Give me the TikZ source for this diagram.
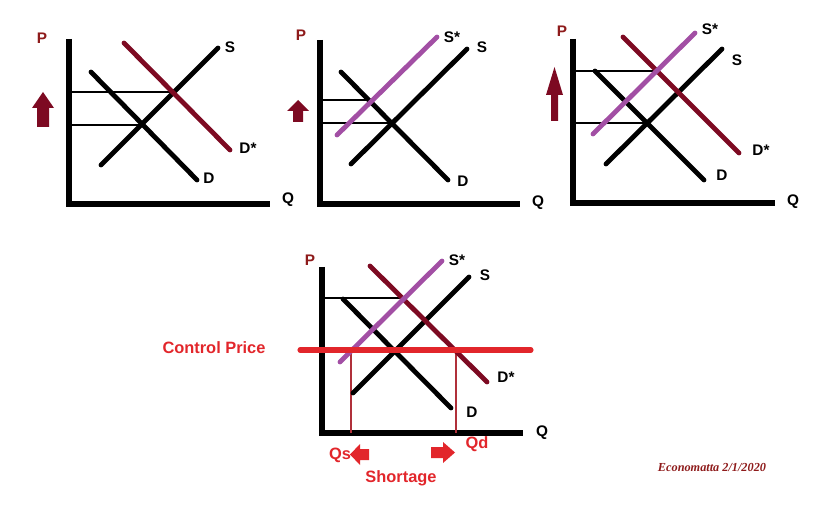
\documentclass[tikz,border=0pt]{standalone}
\usepackage{fontspec}
\setmainfont{Liberation Sans}
\newfontfamily\sigfont{Liberation Serif}
\begin{document}
\begin{tikzpicture}[x=0.75pt,y=-0.75pt,
  curve/.style={line width=3.6pt, line cap=round},
  blk/.style={curve, draw=black},
  dem/.style={curve, draw=maroonc},
  sup/.style={curve, draw=purplec},
  axis/.style={line width=3.8pt, draw=black},
  guide/.style={line width=0.8pt, draw=black},
  lbl/.style={font=\bfseries\fontsize{11.5}{13}\selectfont, inner sep=0pt},
  plbl/.style={lbl, text=plabc},
  redlbl/.style={font=\bfseries\fontsize{12.3}{14}\selectfont, inner sep=0pt, text=redc},
  uparrow/.style={fill=maroonc, draw=none},
  redarrow/.style={fill=redc, draw=none}]
\definecolor{maroonc}{HTML}{7D0A22}
\definecolor{purplec}{HTML}{A24FA4}
\definecolor{plabc}{HTML}{8E1B1B}
\definecolor{redc}{HTML}{E2262B}
\definecolor{thinred}{HTML}{B0303A}
\useasboundingbox (0,0) rectangle (827,505);
% ---------- Panel 1 ----------
\coordinate (a1o) at (69,204);
\coordinate (a1t) at (69,39);
\coordinate (a1r) at (270,204);
\draw[axis] (a1t) -- (a1o) -- (a1r);
\node[plbl] (p1) at (42,38) {P};
\node[lbl] (q1) at (288,200) {Q};
\coordinate (s1a) at (101,165); \coordinate (s1b) at (218,48);
\coordinate (d1a) at (91,72); \coordinate (d1b) at (197,180);
\coordinate (ds1a) at (124,43); \coordinate (ds1b) at (230,150);
\coordinate (h1a) at (69,92); \coordinate (h1b) at (173,92);
\coordinate (h2a) at (69,125); \coordinate (h2b) at (142,125);
\draw[guide] (h1a) -- (h1b);
\draw[guide] (h2a) -- (h2b);
\draw[blk] (s1a) -- (s1b);
\draw[blk] (d1a) -- (d1b);
\draw[dem] (ds1a) -- (ds1b);
\node[lbl] (sl1) at (230,47) {S};
\node[lbl] (dl1) at (209,178) {D};
\node[lbl] (dsl1) at (248,148) {D*};
\fill[uparrow] (32,108) -- (43,92) -- (54,108) -- (49,108) -- (49,127) -- (37,127) -- (37,108) -- cycle;
% ---------- Panel 2 ----------
\coordinate (a2o) at (320,204);
\coordinate (a2t) at (320,40);
\coordinate (a2r) at (520,204);
\draw[axis] (a2t) -- (a2o) -- (a2r);
\node[plbl] (p2) at (301,35) {P};
\node[lbl] (q2) at (538,203) {Q};
\coordinate (s2a) at (351,164); \coordinate (s2b) at (467,49);
\coordinate (ss2a) at (337,135); \coordinate (ss2b) at (437,37);
\coordinate (d2a) at (341,72); \coordinate (d2b) at (448,180);
\coordinate (h3a) at (320,100); \coordinate (h3b) at (369,100);
\coordinate (h4a) at (320,123); \coordinate (h4b) at (391,123);
\draw[guide] (h3a) -- (h3b);
\draw[guide] (h4a) -- (h4b);
\draw[blk] (s2a) -- (s2b);
\draw[blk] (d2a) -- (d2b);
\draw[sup] (ss2a) -- (ss2b);
\node[lbl] (ssl2) at (452,37) {S*};
\node[lbl] (sl2) at (482,47) {S};
\node[lbl] (dl2) at (463,181) {D};
\fill[uparrow] (287,111) -- (298,100) -- (309,111) -- (303,111) -- (303,122) -- (293,122) -- (293,111) -- cycle;
% ---------- Panel 3 ----------
\coordinate (a3o) at (573,203);
\coordinate (a3t) at (573,39);
\coordinate (a3r) at (775,203);
\draw[axis] (a3t) -- (a3o) -- (a3r);
\node[plbl] (p3) at (562,31) {P};
\node[lbl] (q3) at (793,202) {Q};
\coordinate (s3a) at (606,164); \coordinate (s3b) at (722,49);
\coordinate (ss3a) at (593,134); \coordinate (ss3b) at (695,33);
\coordinate (d3a) at (595,71); \coordinate (d3b) at (704,180);
\coordinate (ds3a) at (623,37); \coordinate (ds3b) at (739,153);
\coordinate (h5a) at (573,71); \coordinate (h5b) at (656,71);
\coordinate (h6a) at (573,123); \coordinate (h6b) at (647,123);
\draw[guide] (h5a) -- (h5b);
\draw[guide] (h6a) -- (h6b);
\draw[blk] (s3a) -- (s3b);
\draw[blk] (d3a) -- (d3b);
\draw[dem] (ds3a) -- (ds3b);
\draw[sup] (ss3a) -- (ss3b);
\node[lbl] (ssl3) at (710,29) {S*};
\node[lbl] (sl3) at (737,60) {S};
\node[lbl] (dl3) at (722,175) {D};
\node[lbl] (dsl3) at (761,150) {D*};
\fill[uparrow] (546,95) -- (554.5,67) -- (563,95) -- (558,95) -- (558,121) -- (551,121) -- (551,95) -- cycle;
% ---------- Panel 4 ----------
\coordinate (a4o) at (322,433);
\coordinate (a4t) at (322,267);
\coordinate (a4r) at (523,433);
\draw[axis] (a4t) -- (a4o) -- (a4r);
\node[plbl] (p4) at (310,260) {P};
\node[lbl] (q4) at (542,433) {Q};
\coordinate (s4a) at (353,393); \coordinate (s4b) at (469,277);
\coordinate (ss4a) at (340,362); \coordinate (ss4b) at (442,261);
\coordinate (d4a) at (343,299); \coordinate (d4b) at (451,408);
\coordinate (ds4a) at (370,266); \coordinate (ds4b) at (487,382);
\coordinate (h7a) at (322,298); \coordinate (h7b) at (405,298);
\coordinate (cpa) at (300,350); \coordinate (cpb) at (531,350);
\coordinate (vqs) at (351,350); \coordinate (vqsb) at (351,433);
\coordinate (vqd) at (456,350); \coordinate (vqdb) at (456,433);
\draw[guide] (h7a) -- (h7b);
\draw[line width=0.8pt, draw=thinred] (vqs) -- (vqsb);
\draw[line width=0.8pt, draw=thinred] (vqd) -- (vqdb);
\draw[blk] (s4a) -- (s4b);
\draw[blk] (d4a) -- (d4b);
\draw[dem] (ds4a) -- (ds4b);
\draw[sup] (ss4a) -- (ss4b);
\draw[line width=3.8pt, draw=redc, line cap=round] (cpa) -- (cpb);
\node[lbl] (ssl4) at (457,260) {S*};
\node[lbl] (sl4) at (485,275) {S};
\node[lbl] (dl4) at (472,412) {D};
\node[lbl] (dsl4) at (506,377) {D*};
\node[redlbl] (cpl) at (214,348) {Control Price};
\node[redlbl] (qsl) at (340,455) {Qs};
\node[redlbl] (qdl) at (477,444) {Qd};
\node[redlbl] (shl) at (401,478) {Shortage};
\fill[redarrow] (350,454.5) -- (360,444) -- (360,449) -- (369,449) -- (369,460) -- (360,460) -- (360,465) -- cycle;
\fill[redarrow] (455,452.5) -- (443,442) -- (443,447) -- (431,447) -- (431,458) -- (443,458) -- (443,463) -- cycle;
\node[inner sep=0pt, text=plabc, font=\sigfont\bfseries\itshape\fontsize{9.2}{11}\selectfont] (sig) at (712,467) {Economatta 2/1/2020};
\end{tikzpicture}
\end{document}
